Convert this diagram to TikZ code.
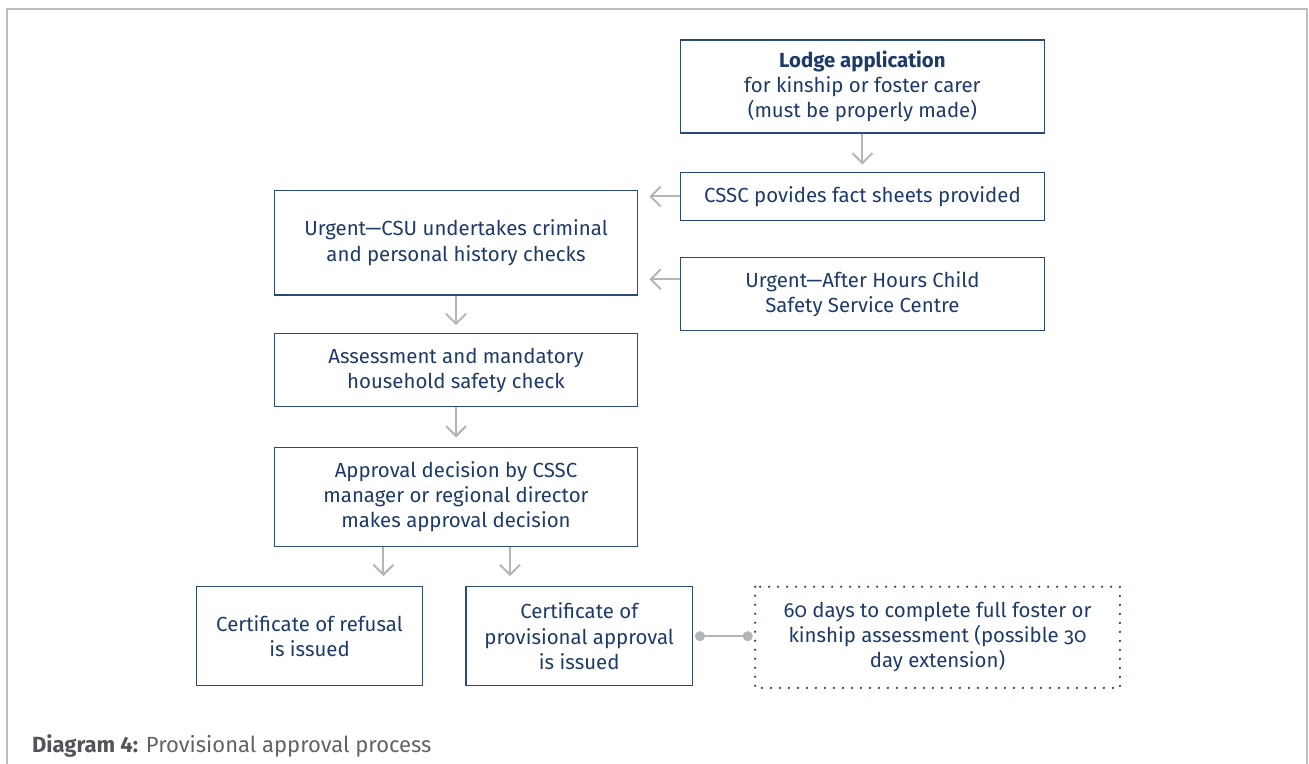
\documentclass[tikz,border=0pt]{standalone}
\usepackage{fontspec}
\setmainfont{Fira Sans}[Numbers=OldStyle]
\newfontfamily\capfont{Fira Sans}[Numbers=Lining]
\usetikzlibrary{arrows.meta}
\definecolor{boxblue}{HTML}{2B4A7A}
\definecolor{textblue}{HTML}{1E3A68}
\definecolor{arrowgrey}{HTML}{B5B5B5}
\definecolor{framegrey}{HTML}{BDBDBD}
\definecolor{capgrey}{HTML}{5F6368}
\tikzset{
  stepbox/.style={draw=boxblue,line width=0.6pt,text=textblue,align=center,inner sep=0pt,font=\fontsize{10.2}{12.6}\selectfont},
  dotbox/.style={stepbox,draw=none},
  arr/.style={draw=arrowgrey,line width=1pt,-{Straight Barb[length=5pt,width=10pt]}},
  link/.style={draw=arrowgrey,line width=1pt,{Circle[length=5pt]}-{Circle[length=5pt]}}
}
\begin{document}
\begin{tikzpicture}[x=0.5pt,y=-0.5pt]
\useasboundingbox (0,0) rectangle (1309,764);
\draw[framegrey,line width=1pt] (7,764)--(7,9)--(1307,9)--(1307,764);

\node[stepbox,minimum width=181.7pt,minimum height=46.5pt] (lodge) at (862.4,86.5) {{\bfseries Lodge application}\\for kinship or foster carer\\(must be properly made)};
\node[stepbox,minimum width=181.7pt,minimum height=23.8pt] (cssc) at (862.4,196.5) {CSSC povides fact sheets provided};
\node[stepbox,minimum width=181.7pt,minimum height=36.5pt] (afterhours) at (862.4,294.2) {Urgent—After Hours Child\\Safety Service Centre};
\node[stepbox,minimum width=181.7pt,minimum height=52.2pt] (csu) at (456,242.8) {Urgent—CSU undertakes criminal\\and personal history checks};
\node[stepbox,minimum width=181.7pt,minimum height=36.5pt] (assess) at (456,370.2) {Assessment and mandatory\\household safety check};
\node[stepbox,minimum width=181.7pt,minimum height=49.2pt] (approve) at (456,496.9) {Approval decision by CSSC\\manager or regional director\\makes approval decision};
\node[stepbox,minimum width=112.8pt,minimum height=49.2pt] (refusal) at (309.5,635.9) {Certificate of refusal\\is issued};
\node[stepbox,minimum width=113.2pt,minimum height=49.5pt] (provisional) at (579.2,636.2) {Certificate of\\provisional approval\\is issued};
\node[dotbox,minimum width=181.8pt,minimum height=50pt] (sixty) at (937.5,637.3) {60 days to complete full foster or\\kinship assessment (possible 30\\day extension)};
\draw[boxblue,line width=1.3pt,line cap=round,dash pattern=on 0pt off 4.5pt] (sixty.north west) rectangle (sixty.south east);

\node[anchor=base west,text=capgrey,inner sep=0pt,font=\capfont\fontsize{11}{12}\selectfont] (caption) at (31.7,752) {{\bfseries\color{capgrey!85!black}Diagram 4:} Provisional approval process};

\coordinate (ahout) at ([yshift=7.5pt]afterhours.west);
\coordinate (refin) at ([xshift=-36.3pt]approve.south);
\coordinate (provin) at ([xshift=27pt]approve.south);

\draw[arr,shorten >=3.8pt] (lodge.south)--(cssc.north);
\draw[arr,shorten >=5.5pt] (cssc.west)--(cssc.west -| csu.east);
\draw[arr,shorten >=5.5pt] (ahout)--(ahout -| csu.east);
\draw[arr,shorten >=4pt] (csu.south)--(assess.north);
\draw[arr,shorten >=4.8pt] (assess.south)--(approve.north);
\draw[arr,shorten >=5pt] (refin)--(refin |- refusal.north);
\draw[arr,shorten >=5pt] (provin)--(provin |- provisional.north);
\draw[link,shorten <=1pt,shorten >=1.2pt] (provisional.east)--(provisional.east -| sixty.west);
\end{tikzpicture}
\end{document}
